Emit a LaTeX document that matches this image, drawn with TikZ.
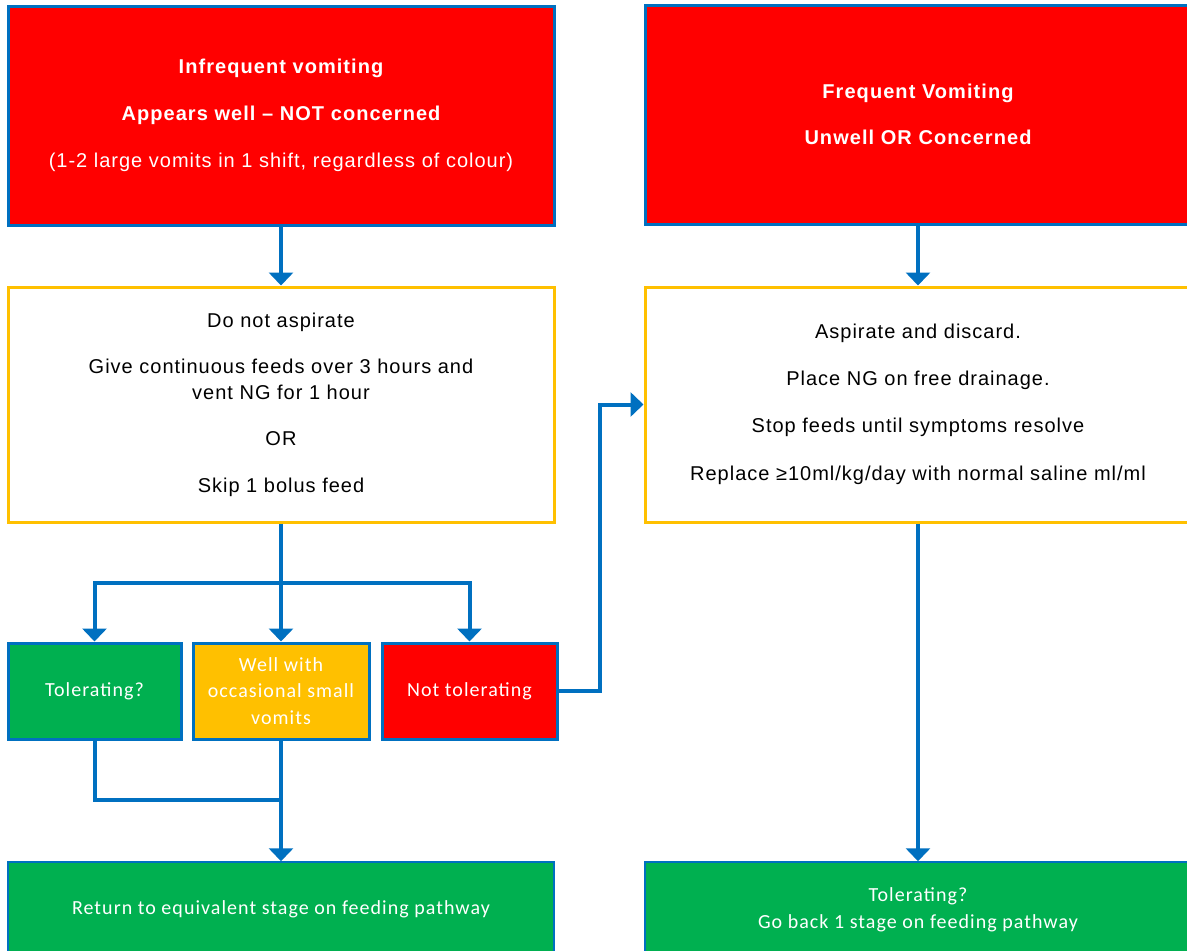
\documentclass[tikz,border=0pt]{standalone}
\usepackage{fontspec}
\setmainfont{Liberation Sans}[LetterSpace=5, BoldFeatures={LetterSpace=5.3}]
\newfontfamily\calib{Carlito}[LetterSpace=5.2]
\usetikzlibrary{arrows.meta}
\definecolor{cRed}{HTML}{FF0000}
\definecolor{cBlue}{HTML}{0070C0}
\definecolor{cYel}{HTML}{FFC000}
\definecolor{cGreen}{HTML}{00B050}
\tikzset{
  redbox/.style={draw=cBlue, fill=cRed, line width=3pt, text=white, align=center, inner sep=0pt,
    font=\fontsize{20}{26}\selectfont\bfseries},
  whitebox/.style={draw=cYel, fill=white, line width=3pt, text=black, align=center, inner sep=0pt,
    font=\fontsize{20}{26}\selectfont},
  smallbox/.style={draw=cBlue, line width=3pt, text=white, align=center, inner sep=0pt,
    font=\calib\fontsize{20}{26.5}\selectfont, minimum height=96pt},
  greenbox/.style={draw=cBlue, fill=cGreen, line width=1.5pt, text=white, align=center, inner sep=0pt,
    font=\calib\fontsize{20}{27}\selectfont, minimum height=95pt, minimum width=546pt},
  conn/.style={draw=cBlue, line width=4pt},
  arr/.style={conn, -{Triangle[width=24pt,length=13pt]}}
}
\begin{document}
\begin{tikzpicture}[x=1pt,y=-1pt]
\useasboundingbox (0,0) rectangle (1187,951);
\clip (0,0) rectangle (1187,951);
% top boxes
\node[redbox, minimum width=546pt, minimum height=219pt] (tl) at (281,115.5)
  {Infrequent vomiting\\[21pt]Appears well -- NOT concerned\\[21pt]{\mdseries (1-2 large vomits in 1 shift, regardless of colour)}};
\node[redbox, minimum width=546pt, minimum height=219pt] (tr) at (918,114.5)
  {Frequent Vomiting\\[20pt]Unwell OR Concerned};
% white boxes
\node[whitebox, minimum width=546pt, minimum height=235pt] (ly) at (281,404.5)
  {Do not aspirate\\[20pt]Give continuous feeds over 3 hours and\\vent NG for 1 hour\\[20pt]OR\\[21pt]Skip 1 bolus feed};
\node[whitebox, minimum width=546pt, minimum height=235pt] (ry) at (918,404.5)
  {Aspirate and discard.\\[21pt]Place NG on free drainage.\\[21pt]Stop feeds until symptoms resolve\\[22pt]Replace ≥10ml/kg/day with normal saline ml/ml};
% small boxes
\node[smallbox, fill=cGreen, minimum width=173pt] (tol) at (94.5,691) {Tolerating?};
\node[smallbox, fill=cYel, minimum width=176pt] (well) at (281,691) {Well with\\occasional small\\vomits};
\node[smallbox, fill=cRed, minimum width=175pt] (nt) at (469.5,691) {Not tolerating};
% bottom boxes
\node[greenbox] (bl) at (281,909.5) {Return to equivalent stage on feeding pathway};
\node[greenbox] (br) at (918,909.5) {Tolerating?\\Go back 1 stage on feeding pathway};
% connectors
\coordinate (split) at (281,583);
\coordinate (merge) at (281,800);
\coordinate (bend) at (600,0);
\draw[arr] (tl.south) -- (ly.north);
\draw[arr] (tr.south) -- (ry.north);
\draw[arr] (ly.south) -- (well.north);
\draw[arr] (split) -| (tol.north);
\draw[arr] (split) -| (nt.north);
\draw[arr] (nt.east) -- (nt.east -| bend) |- (ry.west);
\draw[conn] (tol.south) |- (merge);
\draw[arr] (well.south) -- (bl.north);
\draw[arr] (ry.south) -- (br.north);
\end{tikzpicture}
\end{document}
